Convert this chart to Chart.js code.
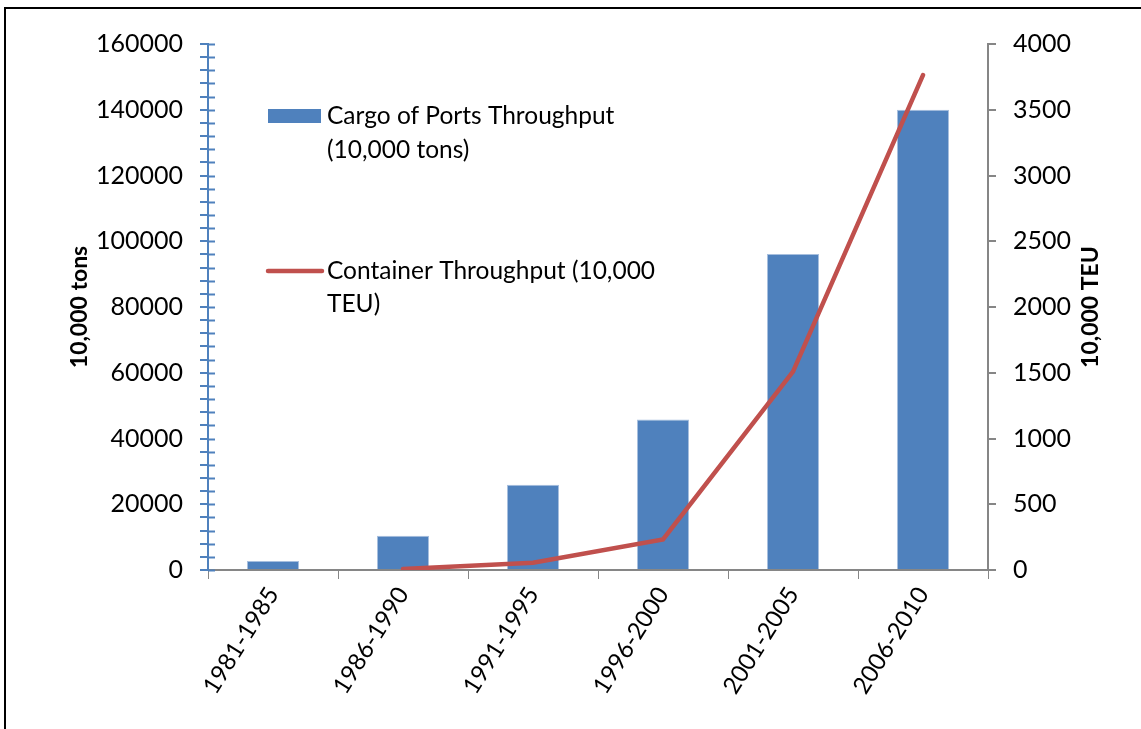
<!DOCTYPE html>
<html lang="en">
<head>
  <meta charset="UTF-8" />
  <title>Ports throughput</title>
  <script src="https://cdn.jsdelivr.net/npm/chart.js"></script>
<style>
  body {
    margin: 0;
    background: white;
  }
  #frame {
    position: absolute;
    left: 4px;
    top: 7px;
    width: 1141px;
    height: 729px;
    border-left: 2px solid black;
    border-top: 2px solid black;
  }
  #wrap {
    position: absolute;
    left: 0;
    top: 0;
    width: 1141px;
    height: 729px;
  }
</style>
</head>
<body>
  <div id="frame"></div>
  <div id="wrap"><canvas id="chart"></canvas></div>

  <script>
    const categories = ["1981-1985", "1986-1990", "1991-1995", "1996-2000", "2001-2005", "2006-2010"];
    const cargo = [2700, 10400, 25900, 45800, 96100, 140000];
    const container = [null, 8, 55, 233, 1508, 3764];
    const leftTicks = [0, 20000, 40000, 60000, 80000, 100000, 120000, 140000, 160000];
    const rightTicks = [0, 500, 1000, 1500, 2000, 2500, 3000, 3500, 4000];

    const BLUE = "#4F81BD";
    const RED = "#C0504D";
    const GRAY = "#868686";
    const FONT = "Lato, 'Open Sans', sans-serif";

    // inner half of the crossed ticks on the left axis, plus titles and legend
    const extras = {
      id: "extras",
      afterDraw(chart) {
        const ctx = chart.ctx;
        const ca = chart.chartArea;
        const y = chart.scales.y;

        ctx.save();
        ctx.strokeStyle = BLUE;
        ctx.lineWidth = 2;
        y.ticks.forEach(t => {
          const py = Math.round(y.getPixelForValue(t.value)) + 0.5;
          ctx.beginPath();
          ctx.moveTo(ca.left, py);
          ctx.lineTo(ca.left + 7, py);
          ctx.stroke();
        });

        // axis titles
        ctx.fillStyle = "black";
        ctx.font = "bold 23px " + FONT;
        ctx.textAlign = "center";
        ctx.textBaseline = "middle";
        const midY = (ca.top + ca.bottom) / 2;
        [["10,000 tons", 80], ["10,000 TEU", 1091]].forEach(([txt, x]) => {
          ctx.save();
          ctx.translate(x, midY);
          ctx.rotate(-Math.PI / 2);
          ctx.fillText(txt, 0, 0);
          ctx.restore();
        });

        // legend
        ctx.font = "24.5px " + FONT;
        ctx.textAlign = "left";
        const lx = ca.left + 60;
        const tx = ca.left + 119;
        ctx.fillStyle = BLUE;
        ctx.fillRect(lx, ca.top + 65, 53, 14);
        ctx.fillStyle = "black";
        ctx.fillText("Cargo of Ports Throughput", tx, ca.top + 72);
        ctx.fillText("(10,000 tons)", tx, ca.top + 106);

        ctx.strokeStyle = RED;
        ctx.lineWidth = 4.5;
        ctx.lineCap = "round";
        ctx.beginPath();
        ctx.moveTo(lx, ca.top + 227);
        ctx.lineTo(lx + 54, ca.top + 227);
        ctx.stroke();
        ctx.fillText("Container Throughput (10,000", tx, ca.top + 227);
        ctx.fillText("TEU)", tx, ca.top + 260);
        ctx.restore();
      }
    };

    new Chart(document.getElementById("chart"), {
      data: {
        labels: categories,
        datasets: [
          {
            type: "line",
            label: "Container Throughput (10,000 TEU)",
            data: container,
            yAxisID: "y2",
            borderColor: RED,
            borderWidth: 4.5,
            pointRadius: 0,
            tension: 0,
            borderCapStyle: "round",
            spanGaps: false
          },
          {
            type: "bar",
            label: "Cargo of Ports Throughput (10,000 tons)",
            data: cargo,
            yAxisID: "y",
            backgroundColor: BLUE,
            borderColor: "#A7BFDE",
            borderWidth: 1,
            barPercentage: 0.4,
            categoryPercentage: 1
          }
        ]
      },
      options: {
        responsive: true,
        maintainAspectRatio: false,
        animation: false,
        layout: { padding: { top: 44, left: 0, right: 0, bottom: 0 } },
        plugins: {
          legend: { display: false },
          tooltip: { enabled: false }
        },
        scales: {
          x: {
            offset: true,
            grid: { drawOnChartArea: false, color: GRAY, tickLength: 9, offset: true },
            border: { color: GRAY, width: 2 },
            ticks: {
              color: "black",
              font: { family: FONT, size: 24 },
              maxRotation: 58,
              minRotation: 58,
              padding: 3
            },
            afterFit(s) { s.height = 159; }
          },
          y: {
            position: "left",
            min: 0,
            max: 160000,
            afterBuildTicks(s) {
              const out = [];
              for (let i = 0; i < leftTicks.length; i++) {
                out.push({ value: leftTicks[i] });
                if (i < leftTicks.length - 1) {
                  const step = (leftTicks[i + 1] - leftTicks[i]) / 5;
                  for (let k = 1; k < 5; k++) out.push({ value: leftTicks[i] + step * k });
                }
              }
              s.ticks = out;
            },
            grid: { drawOnChartArea: false, color: BLUE, tickLength: 8, lineWidth: 2 },
            border: { color: BLUE, width: 2 },
            ticks: {
              autoSkip: false,
              color: "black",
              font: { family: FONT, size: 25 },
              padding: 17,
              callback: v => (leftTicks.includes(v) ? String(v) : "")
            },
            afterFit(s) { s.width = 208; }
          },
          y2: {
            position: "right",
            min: 0,
            max: 4000,
            afterBuildTicks(s) { s.ticks = rightTicks.map(v => ({ value: v })); },
            grid: { drawOnChartArea: false, color: GRAY, tickLength: 8, lineWidth: 2 },
            border: { color: GRAY, width: 2 },
            ticks: {
              color: "black",
              font: { family: FONT, size: 25 },
              padding: 17,
              callback: v => String(v)
            },
            afterFit(s) { s.width = 153; }
          }
        }
      },
      plugins: [extras]
    });
  </script>
</body>
</html>
